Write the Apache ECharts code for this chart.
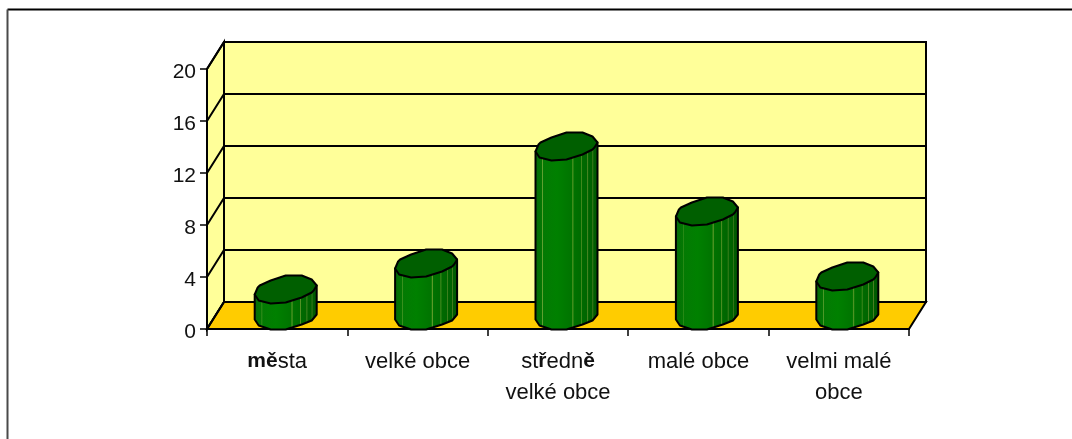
<!DOCTYPE html>
<html><head><meta charset="utf-8">
<style>html,body{margin:0;padding:0;background:#fff}#c{width:1072px;height:439px}</style>
<script src="https://cdn.jsdelivr.net/npm/echarts@6/dist/echarts.min.js"></script>
</head><body><div id="c"></div>
<script>
const categories = ['města', 'velké obce', 'středně\nvelké obce', 'malé obce', 'velmi malé\nobce'];
const categoryLabels = ['{b|mě}sta', 'velké obce', 'st{b|ř}edn{b|ě}\nvelké obce', 'malé obce', 'velmi malé\nobce'];
const values = [2, 4, 13, 8, 3];
const yTicks = [0, 4, 8, 12, 16, 20];

const DX = 17, DY = -27;
const rim = [[-31,5],[-28,-2],[-26,-4],[-15,-9],[0,-14],[16,-14],[26,-10],[31,-4],[28,1],[26,3],[16,8],[0,13],[-15,14],[-27,11]];
const baseRim = [[-31,4],[-27,10],[-15,14],[0,14],[16,9],[26,5],[31,-1]];
const F = "'Liberation Sans', Arial, sans-serif";
const lineS = {stroke:'#000',lineWidth:2,fill:null};

function band(stops){ return {type:'linear',x:0,y:0,x2:1,y2:0,colorStops:stops}; }
const bodyFill = band([
 {offset:0,color:'#0a660a'},{offset:.08,color:'#047404'},{offset:.12,color:'#037803'},{offset:.125,color:'#5fa030'},{offset:.14,color:'#037a03'},
 {offset:.35,color:'#008000'},{offset:.58,color:'#007400'},{offset:.6,color:'#5c9a28'},{offset:.615,color:'#007200'},
 {offset:.72,color:'#006c00'},{offset:.73,color:'#5a9428'},{offset:.745,color:'#006a00'},
 {offset:.82,color:'#006600'},{offset:.83,color:'#548a28'},{offset:.845,color:'#006400'},
 {offset:.9,color:'#006000'},{offset:.91,color:'#4e8024'},{offset:.925,color:'#005e00'},{offset:1,color:'#005400'}
]);

function renderBack(params, api){
  const cs = params.coordSys;
  const xL = cs.x, xR = cs.x + cs.width;
  const y0 = api.coord([0,0])[1];
  const yTop = api.coord([0,yTicks[yTicks.length-1]])[1];
  const ch = [
    {type:'polygon',shape:{points:[[xL+DX,yTop+DY],[xR+DX,yTop+DY],[xR+DX,y0+DY],[xL+DX,y0+DY]]},style:{fill:'#FFFF99',stroke:'#000',lineWidth:2}},
    {type:'polygon',shape:{points:[[xL,yTop],[xL+DX,yTop+DY],[xL+DX,y0+DY],[xL,y0]]},style:{fill:'#FFFF99',stroke:'#000',lineWidth:2}},
    {type:'polygon',shape:{points:[[xL,y0],[xR,y0],[xR+DX,y0+DY],[xL+DX,y0+DY]]},style:{fill:'#FFCC00',stroke:'#000',lineWidth:2}}
  ];
  yTicks.forEach(t=>{
    const y = api.coord([0,t])[1];
    ch.push({type:'polyline',shape:{points:[[xL,y],[xL+DX,y+DY],[xR+DX,y+DY]]},style:lineS});
  });
  return {type:'group',children:ch};
}
function renderCyl(params, api){
  const top = api.coord([api.value(0),api.value(1)]);
  const bot = api.coord([api.value(0),0]);
  const ox = DX/2, oy = DY/2;
  const tx = top[0]+ox, ty = top[1]+oy, by = bot[1]+oy;
  const body = [[tx+rim[0][0],ty+rim[0][1]]]
    .concat(baseRim.map(p=>[tx+p[0],by+p[1]]))
    .concat([[tx+rim[7][0],ty+rim[7][1]]]);
  const cap = rim.map(p=>[tx+p[0],ty+p[1]]);
  return {type:'group',children:[
    {type:'polygon',shape:{points:body},style:{fill:bodyFill,stroke:'#000',lineWidth:2,lineJoin:'round'}},
    {type:'polygon',shape:{points:cap},style:{fill:'#005F00',stroke:'#000',lineWidth:2,lineJoin:'round'}}
  ]};
}

const chart = echarts.init(document.getElementById('c'),null,{renderer:'canvas'});
chart.setOption({
  animation:false,
  backgroundColor:'#fff',
  grid:{left:207,top:69,width:702,height:260},
  graphic:[
    {type:'line',z:10,shape:{x1:7.5,y1:9.5,x2:1072,y2:9.5},style:{stroke:'#000',lineWidth:2}},
    {type:'line',z:10,shape:{x1:7.5,y1:9.5,x2:7.5,y2:439},style:{stroke:'#4a4a4a',lineWidth:2}}
  ],
  xAxis:{type:'category',data:categories,boundaryGap:true,
    axisLine:{lineStyle:{color:'#000',width:2}},
    axisTick:{show:true,alignWithLabel:false,length:7,lineStyle:{color:'#000',width:1.5}},
    axisLabel:{interval:0,margin:17,lineHeight:31,color:'#111',fontFamily:F,fontSize:22,
      formatter:(v,i)=>categoryLabels[i],
      rich:{b:{fontWeight:'bold',fontFamily:F,fontSize:21,color:'#111',lineHeight:31}}}
  },
  yAxis:{type:'value',min:0,max:20,interval:4,
    axisLine:{show:true,lineStyle:{color:'#000',width:2}},
    axisTick:{show:true,length:7,lineStyle:{color:'#000',width:1.5}},
    splitLine:{show:false},
    axisLabel:{margin:11,color:'#111',fontFamily:F,fontSize:21,verticalAlign:'top',lineHeight:6}
  },
  series:[
    {type:'custom',z:-1,silent:true,clip:false,data:[[0,0]],renderItem:renderBack,encode:{x:0,y:1}},
    {type:'custom',z:3,clip:false,data:values.map((v,i)=>[i,v]),renderItem:renderCyl,encode:{x:0,y:1}}
  ]
});
</script></body></html>
